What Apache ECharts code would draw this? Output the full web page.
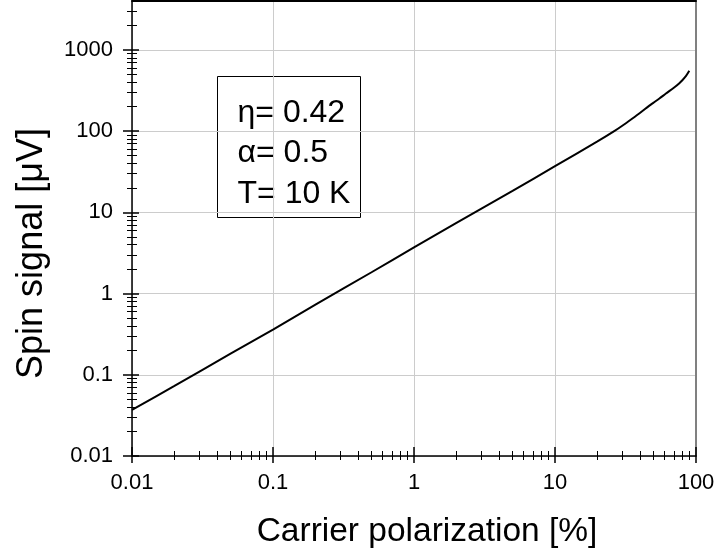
<!DOCTYPE html>
<html>
<head>
<meta charset="utf-8">
<script src="https://cdn.jsdelivr.net/npm/echarts@6/dist/echarts.min.js"></script>
<style>
  html, body { margin: 0; padding: 0; background: #fff; }
  #chart { width: 718px; height: 556px; }
</style>
</head>
<body>
<div id="chart"></div>
<script>
// Carrier polarization (%) and the resulting spin signal (µV)
const polarization = [0.01, 0.02, 0.05, 0.1, 0.2, 0.5, 1, 2, 5, 10, 20, 26.3, 30, 35, 40, 46.7, 50, 55, 61.2, 70, 76.2, 80, 85, 89.6];
const spinSignal   = [0.037, 0.073, 0.182, 0.36, 0.73, 1.83, 3.7, 7.4, 18.4, 37, 74.7, 100, 116.6, 141, 167, 206, 224, 252, 290, 344, 389, 423, 478, 553];

// Decade tick labels
const xTickValues = [0.01, 0.1, 1, 10, 100];
const xTickLabels = ['0.01', '0.1', '1', '10', '100'];
const yTickValues = [0.01, 0.1, 1, 10, 100, 1000];
const yTickLabels = ['0.01', '0.1', '1', '10', '100', '1000'];

const xMin = 0.01, xMax = 100;
const yMin = 0.01, yMax = 4000;

// Minor ticks at 2..9 within each decade
function minorTicks(decades, limit) {
  const out = [];
  decades.forEach(d => {
    for (let k = 2; k <= 9; k++) {
      const v = +(k * d).toPrecision(3);
      if (v < limit) out.push(v);
    }
  });
  return out;
}
const xMinor = minorTicks([0.01, 0.1, 1, 10], xMax);
const yMinor = minorTicks([0.01, 0.1, 1, 10, 100, 1000], yMax);

const FONT = "'Liberation Sans', Arial, Helvetica, sans-serif";
const BLACK = '#000';

function labelFor(values, labels) {
  return function (v) {
    for (let i = 0; i < values.length; i++) {
      if (Math.abs(Math.log10(v) - Math.log10(values[i])) < 1e-6) return labels[i];
    }
    return '';
  };
}

// Helper: a tick-only log axis overlaid on the main one
function tickAxis(kind, pos, values, len, inside, width) {
  return {
    type: 'log', logBase: 10, position: pos,
    min: kind === 'x' ? xMin : yMin,
    max: kind === 'x' ? xMax : yMax,
    axisLine: { show: false },
    axisLabel: { show: false },
    splitLine: { show: false },
    axisTick: { show: true, inside: inside, length: len, customValues: values,
                lineStyle: { color: BLACK, width: width || 1 } }
  };
}

const chart = echarts.init(document.getElementById('chart'), null, { renderer: 'canvas' });

chart.setOption({
  animation: false,
  backgroundColor: '#fff',
  grid: { left: 132, right: 22, top: 1, bottom: 100, containLabel: false },
  xAxis: [
    {
      type: 'log', logBase: 10, min: xMin, max: xMax, position: 'bottom',
      name: 'Carrier polarization [%]', nameLocation: 'middle', nameGap: 59,
      nameTextStyle: { fontFamily: FONT, fontSize: 33.5, color: BLACK, padding: [0, 0, 0, 26] },
      axisLine: { show: true, lineStyle: { color: BLACK, width: 1.5 } },
      axisTick: { show: true, inside: false, length: 7, customValues: xTickValues,
                  lineStyle: { color: BLACK, width: 1.5 } },
      axisLabel: { show: true, customValues: xTickValues, margin: 16,
                   fontFamily: FONT, fontSize: 22, color: BLACK,
                   formatter: labelFor(xTickValues, xTickLabels) },
      splitLine: { show: true, lineStyle: { color: '#cccccc', width: 1 } }
    },
    tickAxis('x', 'bottom', xTickValues, 9, true, 1.5),
    tickAxis('x', 'bottom', xMinor, 4, false),
    tickAxis('x', 'bottom', xMinor, 5, true),
    {
      type: 'log', logBase: 10, min: xMin, max: xMax, position: 'top',
      axisLine: { show: true, lineStyle: { color: BLACK, width: 2 } },
      axisTick: { show: false }, axisLabel: { show: false }, splitLine: { show: false }
    }
  ],
  yAxis: [
    {
      type: 'log', logBase: 10, min: yMin, max: yMax, position: 'left',
      name: 'Spin signal [μV]', nameLocation: 'middle', nameGap: 82, nameRotate: 90,
      nameTextStyle: { fontFamily: FONT, fontSize: 36, color: BLACK, padding: [0, 50, 0, 0] },
      axisLine: { show: true, lineStyle: { color: BLACK, width: 1.5 } },
      axisTick: { show: true, inside: false, length: 9, customValues: yTickValues,
                  lineStyle: { color: BLACK, width: 1.5 } },
      axisLabel: { show: true, customValues: yTickValues, margin: 19,
                   fontFamily: FONT, fontSize: 22, color: BLACK,
                   formatter: labelFor(yTickValues, yTickLabels) },
      splitLine: { show: true, lineStyle: { color: '#cccccc', width: 1 } }
    },
    tickAxis('y', 'left', yTickValues, 7, true, 1.5),
    tickAxis('y', 'left', yMinor, 5, false),
    tickAxis('y', 'left', yMinor, 5, true),
    {
      type: 'log', logBase: 10, min: yMin, max: yMax, position: 'right',
      axisLine: { show: true, lineStyle: { color: '#808080', width: 2 } },
      axisTick: { show: false }, axisLabel: { show: false }, splitLine: { show: false }
    }
  ],
  series: [{
    type: 'line',
    xAxisIndex: 0, yAxisIndex: 0,
    data: polarization.map((p, i) => [p, spinSignal[i]]),
    showSymbol: false,
    smooth: 0.3,
    lineStyle: { color: BLACK, width: 2 },
    z: 5
  }],
  graphic: [{
    type: 'group',
    left: 217, top: 76,
    children: [
      { type: 'rect', shape: { x: 0, y: 0, width: 143, height: 141 },
        style: { fill: '#fff', stroke: BLACK, lineWidth: 1 } },
      { type: 'text', x: 20, y: 37, style: { text: 'η= 0.42', fill: BLACK, font: '32px ' + FONT, textVerticalAlign: 'middle' } },
      { type: 'text', x: 20, y: 77, style: { text: 'α= 0.5', fill: BLACK, font: '32px ' + FONT, textVerticalAlign: 'middle' } },
      { type: 'text', x: 20, y: 118, style: { text: 'T= 10 K', fill: BLACK, font: '32px ' + FONT, textVerticalAlign: 'middle' } }
    ]
  }]
});
</script>
</body>
</html>
